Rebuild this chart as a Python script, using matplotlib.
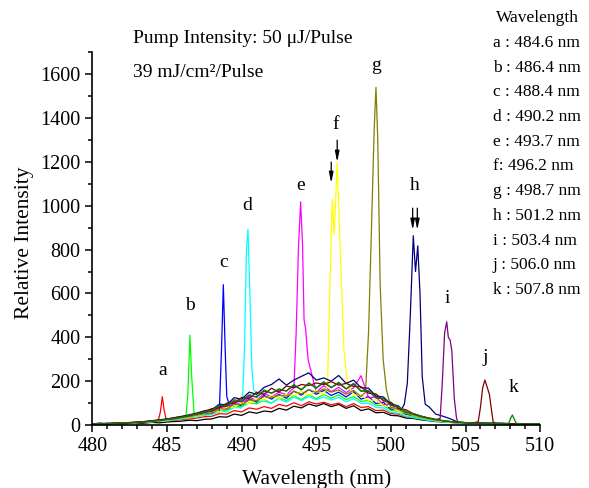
import matplotlib
matplotlib.use("Agg")
import matplotlib.pyplot as plt
from matplotlib.ticker import MultipleLocator
import numpy as np

plt.rcParams['font.family'] = ['Liberation Serif', 'DejaVu Serif']

# background (ASE) sampled every 0.5 nm from 480 to 510 nm
bg_wl = np.arange(480, 510.01, 0.5)

bg_black = [4,6,3,7,5,8,6,9,12,10,14,16,18,22,20,26,
            28,38,36,50,44,60,54,64,60,76,68,86,78,96,86,98,84,94,76,88,66,74,56,58,44,42,32,
            30,24,20,16,14,12,10,9,8,7,8,6,7,5,6,5,6,4]
bg_a = [5,7,4,8,6,9,10,12,14,18,20,22,25,28,32,38,
        40,52,50,66,60,78,72,84,76,94,86,102,88,106,96,104,92,100,84,98,80,84,66,68,52,50,38,
        34,28,22,18,15,12,10,9,8,8,7,6,7,6,5,6,5,5]
bg_b = [6,5,8,6,9,8,11,13,16,19,23,27,30,36,40,48,
        52,66,68,86,84,102,96,115,100,124,112,134,116,138,120,140,122,138,116,130,108,112,90,88,68,62,48,
        40,32,26,20,16,13,11,10,9,8,7,7,6,6,5,6,5,5]
bg_c = [5,8,6,7,9,10,12,14,17,20,24,28,33,38,44,52,
        52,75,70,98,88,120,104,135,118,140,122,155,136,162,140,158,135,150,128,152,118,130,98,104,72,74,50,
        45,36,28,22,18,14,12,10,9,8,8,7,6,6,6,5,5,5]
bg_d = [6,5,7,8,6,9,11,12,15,18,20,24,28,33,38,44,
        48,62,60,80,78,90,96,108,100,120,104,126,112,130,116,128,114,126,106,120,98,100,80,78,58,54,40,
        34,28,22,18,14,12,10,9,8,8,7,7,6,6,5,5,5,4]
bg_e = [5,6,8,7,9,11,12,15,18,21,25,30,35,40,47,55,
        58,80,76,104,96,128,112,145,128,150,138,170,142,175,150,180,152,172,148,170,225,125,128,92,96,62,60,
        46,37,30,24,19,15,12,10,9,9,8,7,7,6,6,5,6,5]
bg_f = [6,5,7,9,8,10,12,14,16,20,23,28,32,37,42,50,
        60,60,82,80,102,98,120,112,136,118,142,132,155,134,158,140,160,140,148,136,138,112,115,88,84,62,56,
        44,35,28,22,17,14,12,10,9,8,8,7,6,6,6,5,5,5]
bg_g = [5,7,6,8,9,9,12,13,17,19,24,27,33,38,45,51,
        54,74,72,96,92,114,110,130,124,136,132,154,142,162,148,165,150,160,140,158,130,126,112,98,80,74,52,
        46,36,29,23,18,14,12,10,9,8,8,7,7,6,5,6,5,5]
bg_h = [6,8,5,9,8,11,13,16,20,24,28,34,40,47,55,65,
        70,95,92,125,118,150,140,172,185,210,182,205,222,238,205,215,200,226,190,205,170,168,132,128,95,88,62,
        52,42,34,26,21,16,13,11,10,9,8,8,7,6,7,6,5,5]
bg_i = [5,6,8,7,10,10,13,15,19,22,27,31,37,43,51,58,
        62,84,85,110,106,134,128,155,146,160,156,180,162,190,170,192,172,190,165,186,155,155,124,120,90,84,60,
        51,40,32,25,20,16,13,11,10,9,8,7,7,6,6,5,5,5]
bg_j = [6,5,7,9,9,12,12,16,18,23,26,33,38,45,52,61,
        75,78,100,100,126,122,150,140,168,150,178,170,185,180,192,185,198,182,190,176,175,145,142,110,104,76,70,
        52,41,33,26,20,16,13,11,10,9,8,8,7,6,6,6,5,5]
bg_k = [5,7,6,8,10,11,13,14,18,22,26,30,36,44,52,60,
        66,90,88,115,110,138,128,160,145,165,155,185,160,192,168,198,170,195,165,190,155,158,124,122,90,86,60,
        52,41,32,25,20,16,13,11,10,9,8,7,7,6,6,5,6,5]

# lasing peaks (wavelength, intensity)
peak_a = [(484.4, 18), (484.55, 60), (484.68, 129), (484.8, 70), (484.95, 20)]
peak_b = [(486.25, 30), (486.4, 150), (486.53, 410), (486.65, 220), (486.8, 60), (486.95, 35)]
peak_c = [(488.5, 60), (488.65, 350), (488.77, 640), (488.9, 330), (489.0, 130), (489.2, 85)]
peak_d = [(490.05, 90), (490.2, 380), (490.32, 800), (490.42, 893), (490.55, 600), (490.68, 260),
          (490.8, 160), (490.95, 150), (491.1, 110)]
peak_e = [(493.5, 170), (493.65, 420), (493.8, 800), (493.95, 1018), (494.08, 820), (494.18, 480),
          (494.28, 440), (494.45, 300), (494.7, 230)]
peak_f = [(495.75, 180), (495.9, 600), (496.07, 1030), (496.2, 866), (496.4, 1197), (496.55, 900),
          (496.7, 620), (496.85, 350), (497.0, 240), (497.15, 180)]
peak_g = [(498.3, 150), (498.5, 420), (498.7, 900), (498.88, 1350), (499.0, 1540), (499.12, 1300),
          (499.28, 640), (499.48, 300), (499.7, 160)]
peak_h = [(500.7, 70), (500.9, 95), (501.1, 190), (501.3, 500), (501.5, 863), (501.65, 700),
          (501.8, 817), (501.95, 600), (502.1, 220), (502.3, 95), (502.6, 80), (503.0, 50),
          (503.5, 40), (504.0, 28)]
peak_i = [(503.3, 30), (503.45, 200), (503.6, 420), (503.74, 471), (503.85, 400), (503.97, 387),
          (504.08, 340), (504.25, 120), (504.4, 30)]
peak_j = [(505.85, 15), (506.0, 80), (506.15, 170), (506.3, 205), (506.42, 180), (506.6, 140),
          (506.72, 80), (506.85, 15)]
peak_k = [(507.9, 8), (508.02, 30), (508.14, 46), (508.26, 28), (508.4, 8)]

labels = ['a', 'b', 'c', 'd', 'e', 'f', 'g', 'h', 'i', 'j', 'k']
wavelengths = ['484.6', '486.4', '488.4', '490.2', '493.7', '496.2', '498.7',
               '501.2', '503.4', '506.0', '507.8']
label_pos = [(484.68, 251), (486.53, 547), (488.77, 743), (490.4, 1003), (493.95, 1094),
             (496.3, 1372), (499.0, 1641), (501.6, 1094), (503.8, 579), (506.3, 310), (508.2, 169)]

spectra = [
    (bg_black, [], 'black'),
    (bg_a, peak_a, '#ff0000'),
    (bg_b, peak_b, '#00ff00'),
    (bg_c, peak_c, '#0000ff'),
    (bg_d, peak_d, '#00ffff'),
    (bg_e, peak_e, '#ff00ff'),
    (bg_f, peak_f, '#ffff00'),
    (bg_g, peak_g, '#808000'),
    (bg_h, peak_h, '#000080'),
    (bg_i, peak_i, '#800080'),
    (bg_j, peak_j, '#800000'),
    (bg_k, peak_k, '#008000'),
]


def merge(bg, peak):
    bg = np.array(bg, dtype=float)
    if not peak:
        return bg_wl, bg
    pw = np.array([p[0] for p in peak])
    pv = np.array([p[1] for p in peak])
    keep = (bg_wl < pw.min()) | (bg_wl > pw.max())
    x = np.concatenate([bg_wl[keep], pw])
    y = np.concatenate([bg[keep], pv])
    order = np.argsort(x)
    return x[order], y[order]


fig = plt.figure(figsize=(5.89, 4.88), dpi=100)
ax = fig.add_axes([0.157, 0.129, 0.76, 0.764])

for bg, peak, color in spectra:
    x, y = merge(bg, peak)
    ax.plot(x, y, color=color, lw=0.9)

for lab, (x, y) in zip(labels, label_pos):
    ax.text(x, y, lab, ha='center', va='center', fontsize=14)

# arrows over split peaks
arrow_kw = dict(arrowstyle='-|>,head_length=0.7,head_width=0.14', color='black', lw=0.9,
                mutation_scale=9, shrinkA=0, shrinkB=0)
ax.annotate('', xy=(496.0, 1103), xytext=(496.0, 1199), arrowprops=arrow_kw)
ax.annotate('', xy=(496.4, 1199), xytext=(496.4, 1299), arrowprops=arrow_kw)
ax.annotate('', xy=(501.46, 889), xytext=(501.46, 989), arrowprops=arrow_kw)
ax.annotate('', xy=(501.77, 889), xytext=(501.77, 989), arrowprops=arrow_kw)

ax.set_xlim(480, 510)
ax.set_ylim(0, 1700)
ax.xaxis.set_major_locator(MultipleLocator(5))
ax.xaxis.set_minor_locator(MultipleLocator(1))
ax.yaxis.set_major_locator(MultipleLocator(200))
ax.yaxis.set_minor_locator(MultipleLocator(100))
ax.set_yticks(range(0, 1601, 200))
ax.tick_params(which='both', direction='out', width=1.1, labelsize=14.5)
ax.tick_params(which='major', length=5)
ax.tick_params(which='minor', length=3)
for s in ['top', 'right']:
    ax.spines[s].set_visible(False)
for s in ['left', 'bottom']:
    ax.spines[s].set_linewidth(1.2)

ax.set_xlabel('Wavelength (nm)', fontsize=15.5)
ax.set_ylabel('Relative Intensity', fontsize=15.5)
ax.xaxis.set_label_coords(0.5, -0.118)
ax.yaxis.set_label_coords(-0.13, 0.49)

fig.text(0.226, 0.922, 'Pump Intensity: 50 \u03bcJ/Pulse', fontsize=14, va='center')
fig.text(0.226, 0.852, '39 mJ/cm\u00b2/Pulse', fontsize=14, va='center')

fig.text(537 / 589, 1 - 18 / 488, 'Wavelength', fontsize=12.5, ha='center', va='center')
for n, (lab, wl) in enumerate(zip(labels, wavelengths)):
    py = 43 + n * 24.7
    sep = ': ' if lab == 'f' else ' : '
    fig.text(493 / 589, 1 - py / 488, lab + sep + wl + ' nm', fontsize=12.5, va='center')

fig.savefig('out.png', dpi=100)
